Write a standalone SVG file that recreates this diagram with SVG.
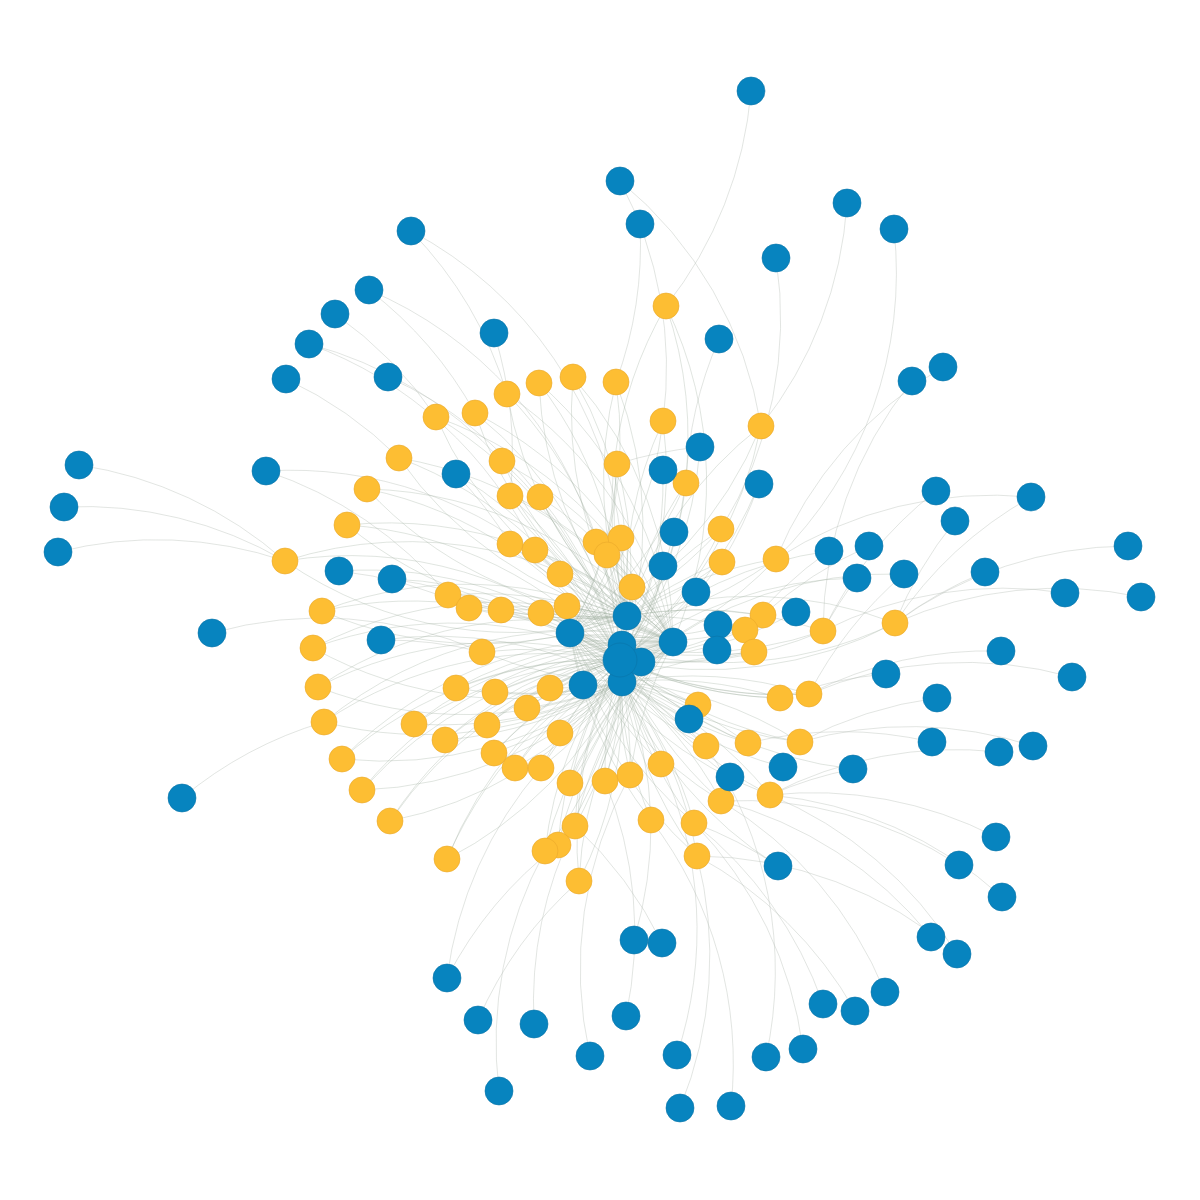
<svg xmlns="http://www.w3.org/2000/svg" width="1200" height="1200" viewBox="0 0 1200 1200">
<style>
.e path{fill:none;stroke:#9fae9f;stroke-width:0.6;stroke-opacity:0.55}
.p path{fill:none;stroke:#b9c0b9;stroke-width:0.6;stroke-opacity:0.7}
.b circle{fill:#0784bf;stroke:#0a74a8;stroke-width:0.6}
.y circle{fill:#fdbe33;stroke:#e9a72a;stroke-width:0.6}
</style>
<rect width="1200" height="1200" fill="#ffffff"/>
<g id="connectors">
<g class="p">
<path d="M751 91A400 400 0 0 1 666 306"/>
<path d="M620 181A400 400 0 0 1 663 421"/>
<path d="M640 224A400 400 0 0 1 616 382"/>
<path d="M847 203A400 400 0 0 1 761 426"/>
<path d="M894 229A400 400 0 0 1 776 559"/>
<path d="M776 258A400 400 0 0 1 721 529"/>
<path d="M411 231A400 400 0 0 1 507 394"/>
<path d="M369 290A400 400 0 0 1 475 413"/>
<path d="M335 314A400 400 0 0 1 436 417"/>
<path d="M309 344A400 400 0 0 1 502 461"/>
<path d="M286 379A400 400 0 0 1 399 458"/>
<path d="M388 377A400 400 0 0 1 540 497"/>
<path d="M494 333A400 400 0 0 1 510 496"/>
<path d="M719 339A400 400 0 0 0 686 483"/>
<path d="M912 381A400 400 0 0 0 823 631"/>
<path d="M943 367A400 400 0 0 0 776 559"/>
<path d="M700 447A400 400 0 0 0 617 464"/>
<path d="M759 484A400 400 0 0 1 722 562"/>
<path d="M456 474A400 400 0 0 1 510 544"/>
<path d="M266 471A400 400 0 0 1 448 595"/>
<path d="M79 465A400 400 0 0 1 285 561"/>
<path d="M64 507A400 400 0 0 1 285 561"/>
<path d="M58 552A400 400 0 0 1 285 561"/>
<path d="M936 491A400 400 0 0 0 823 631"/>
<path d="M1031 497A400 400 0 0 0 895 623"/>
<path d="M955 521A400 400 0 0 0 895 623"/>
<path d="M829 551A400 400 0 0 0 745 630"/>
<path d="M869 546A400 400 0 0 0 763 615"/>
<path d="M857 578A400 400 0 0 0 823 631"/>
<path d="M904 574A400 400 0 0 0 809 694"/>
<path d="M985 572A400 400 0 0 0 895 623"/>
<path d="M1128 546A400 400 0 0 0 895 623"/>
<path d="M1141 597A400 400 0 0 0 895 623"/>
<path d="M1065 593A400 400 0 0 0 823 631"/>
<path d="M339 571A400 400 0 0 1 469 608"/>
<path d="M392 579A400 400 0 0 1 501 610"/>
<path d="M212 633A400 400 0 0 1 482 652"/>
<path d="M381 640A400 400 0 0 1 482 652"/>
<path d="M1001 651A400 400 0 0 0 809 694"/>
<path d="M886 674A400 400 0 0 0 780 698"/>
<path d="M937 698A400 400 0 0 0 800 742"/>
<path d="M1072 677A400 400 0 0 0 809 694"/>
<path d="M932 742A400 400 0 0 0 748 743"/>
<path d="M999 752A400 400 0 0 0 770 795"/>
<path d="M1033 746A400 400 0 0 0 800 742"/>
<path d="M853 769A400 400 0 0 0 770 795"/>
<path d="M182 798A400 400 0 0 1 324 722"/>
<path d="M996 837A400 400 0 0 0 770 795"/>
<path d="M959 865A400 400 0 0 0 721 801"/>
<path d="M778 866A400 400 0 0 0 694 823"/>
<path d="M1002 897A400 400 0 0 0 770 795"/>
<path d="M931 937A400 400 0 0 0 721 801"/>
<path d="M957 954A400 400 0 0 0 697 856"/>
<path d="M634 940A400 400 0 0 0 651 820"/>
<path d="M662 943A400 400 0 0 0 575 826"/>
<path d="M447 978A400 400 0 0 1 558 845"/>
<path d="M885 992A400 400 0 0 0 721 801"/>
<path d="M823 1004A400 400 0 0 0 694 823"/>
<path d="M855 1011A400 400 0 0 0 697 856"/>
<path d="M478 1020A400 400 0 0 1 579 881"/>
<path d="M534 1024A400 400 0 0 1 575 826"/>
<path d="M626 1016A400 400 0 0 0 605 781"/>
<path d="M590 1056A400 400 0 0 1 630 775"/>
<path d="M677 1055A400 400 0 0 0 661 764"/>
<path d="M766 1057A400 400 0 0 0 706 746"/>
<path d="M803 1049A400 400 0 0 0 694 823"/>
<path d="M499 1091A400 400 0 0 1 545 851"/>
<path d="M680 1108A400 400 0 0 0 697 856"/>
<path d="M731 1106A400 400 0 0 0 651 820"/>
<path d="M620 181A400 400 0 0 1 761 426"/>
<path d="M411 231A400 400 0 0 1 621 538"/>
<path d="M369 290A400 400 0 0 1 596 542"/>
<path d="M309 344A400 400 0 0 1 535 550"/>
<path d="M266 471A400 400 0 0 1 560 574"/>
<path d="M1031 497A400 400 0 0 0 776 559"/>
<path d="M957 954A400 400 0 0 0 770 795"/>
<path d="M447 978A400 400 0 0 1 541 768"/>
</g>
<g class="e">
<path d="M666 306A400 400 0 0 1 620 660"/><path d="M666 306A400 400 0 0 0 627 616"/><path d="M666 306A400 400 0 0 1 673 642"/>
<path d="M573 377A400 400 0 0 1 620 660"/><path d="M573 377A400 400 0 0 0 627 616"/><path d="M573 377A400 400 0 0 1 673 642"/>
<path d="M539 383A400 400 0 0 1 620 660"/><path d="M539 383A400 400 0 0 0 627 616"/><path d="M539 383A400 400 0 0 1 673 642"/>
<path d="M507 394A400 400 0 0 1 620 660"/><path d="M507 394A400 400 0 0 0 627 616"/><path d="M507 394A400 400 0 0 1 673 642"/>
<path d="M616 382A400 400 0 0 1 620 660"/><path d="M616 382A400 400 0 0 0 627 616"/><path d="M616 382A400 400 0 0 1 570 633"/>
<path d="M475 413A400 400 0 0 1 620 660"/><path d="M475 413A400 400 0 0 0 627 616"/><path d="M475 413A400 400 0 0 1 673 642"/>
<path d="M436 417A400 400 0 0 1 620 660"/><path d="M436 417A400 400 0 0 0 627 616"/><path d="M436 417A400 400 0 0 1 673 642"/>
<path d="M663 421A400 400 0 0 1 620 660"/><path d="M663 421A400 400 0 0 0 627 616"/><path d="M663 421A400 400 0 0 1 570 633"/>
<path d="M761 426A400 400 0 0 1 620 660"/><path d="M761 426A400 400 0 0 0 627 616"/><path d="M761 426A400 400 0 0 1 570 633"/>
<path d="M399 458A400 400 0 0 1 620 660"/><path d="M399 458A400 400 0 0 0 627 616"/><path d="M399 458A400 400 0 0 1 673 642"/>
<path d="M502 461A400 400 0 0 1 620 660"/><path d="M502 461A400 400 0 0 0 627 616"/><path d="M502 461A400 400 0 0 1 673 642"/>
<path d="M617 464A400 400 0 0 1 620 660"/><path d="M617 464A400 400 0 0 0 627 616"/><path d="M617 464A400 400 0 0 1 570 633"/>
<path d="M686 483A400 400 0 0 1 620 660"/><path d="M686 483A400 400 0 0 0 627 616"/><path d="M686 483A400 400 0 0 1 570 633"/>
<path d="M367 489A400 400 0 0 1 620 660"/><path d="M367 489A400 400 0 0 0 627 616"/><path d="M367 489A400 400 0 0 1 673 642"/>
<path d="M510 496A400 400 0 0 1 620 660"/><path d="M510 496A400 400 0 0 0 627 616"/><path d="M510 496A400 400 0 0 1 673 642"/>
<path d="M540 497A400 400 0 0 1 620 660"/><path d="M540 497A400 400 0 0 0 627 616"/><path d="M540 497A400 400 0 0 1 673 642"/>
<path d="M347 525A400 400 0 0 1 620 660"/><path d="M347 525A400 400 0 0 0 627 616"/><path d="M347 525A400 400 0 0 1 673 642"/>
<path d="M721 529A400 400 0 0 1 620 660"/><path d="M721 529A400 400 0 0 0 627 616"/><path d="M721 529A400 400 0 0 1 570 633"/>
<path d="M510 544A400 400 0 0 1 620 660"/><path d="M510 544A400 400 0 0 0 627 616"/><path d="M510 544A400 400 0 0 1 673 642"/>
<path d="M535 550A400 400 0 0 1 620 660"/><path d="M535 550A400 400 0 0 0 627 616"/><path d="M535 550A400 400 0 0 1 673 642"/>
<path d="M596 542A400 400 0 0 1 620 660"/><path d="M596 542A400 400 0 0 0 627 616"/><path d="M596 542A400 400 0 0 1 673 642"/>
<path d="M621 538A400 400 0 0 1 620 660"/><path d="M621 538A400 400 0 0 0 627 616"/><path d="M621 538A400 400 0 0 1 570 633"/>
<path d="M607 555A400 400 0 0 1 620 660"/><path d="M607 555A400 400 0 0 0 627 616"/><path d="M607 555A400 400 0 0 1 673 642"/>
<path d="M285 561A400 400 0 0 1 620 660"/><path d="M285 561A400 400 0 0 0 627 616"/><path d="M285 561A400 400 0 0 1 673 642"/>
<path d="M722 562A400 400 0 0 1 620 660"/><path d="M722 562A400 400 0 0 0 627 616"/><path d="M722 562A400 400 0 0 1 570 633"/>
<path d="M776 559A400 400 0 0 1 620 660"/><path d="M776 559A400 400 0 0 0 627 616"/><path d="M776 559A400 400 0 0 1 570 633"/>
<path d="M560 574A400 400 0 0 1 620 660"/><path d="M560 574A400 400 0 0 0 627 616"/><path d="M560 574A400 400 0 0 1 673 642"/>
<path d="M632 587A400 400 0 0 1 620 660"/><path d="M632 587A400 400 0 0 0 627 616"/><path d="M632 587A400 400 0 0 1 570 633"/>
<path d="M448 595A400 400 0 0 1 620 660"/><path d="M448 595A400 400 0 0 0 627 616"/><path d="M448 595A400 400 0 0 1 673 642"/>
<path d="M469 608A400 400 0 0 1 620 660"/><path d="M469 608A400 400 0 0 0 627 616"/><path d="M469 608A400 400 0 0 1 673 642"/>
<path d="M501 610A400 400 0 0 1 620 660"/><path d="M501 610A400 400 0 0 0 627 616"/><path d="M501 610A400 400 0 0 1 673 642"/>
<path d="M541 613A400 400 0 0 1 620 660"/><path d="M541 613A400 400 0 0 0 627 616"/><path d="M541 613A400 400 0 0 1 673 642"/>
<path d="M567 606A400 400 0 0 1 620 660"/><path d="M567 606A400 400 0 0 0 627 616"/><path d="M567 606A400 400 0 0 1 673 642"/>
<path d="M322 611A400 400 0 0 1 620 660"/><path d="M322 611A400 400 0 0 0 627 616"/><path d="M322 611A400 400 0 0 1 673 642"/>
<path d="M763 615A400 400 0 0 1 620 660"/><path d="M763 615A400 400 0 0 0 627 616"/><path d="M763 615A400 400 0 0 1 570 633"/>
<path d="M745 630A400 400 0 0 1 620 660"/><path d="M745 630A400 400 0 0 0 627 616"/><path d="M745 630A400 400 0 0 1 570 633"/>
<path d="M823 631A400 400 0 0 1 620 660"/><path d="M823 631A400 400 0 0 0 627 616"/><path d="M823 631A400 400 0 0 1 570 633"/>
<path d="M895 623A400 400 0 0 1 620 660"/><path d="M895 623A400 400 0 0 0 627 616"/><path d="M895 623A400 400 0 0 1 570 633"/>
<path d="M754 652A400 400 0 0 1 620 660"/><path d="M754 652A400 400 0 0 0 622 682"/><path d="M754 652A400 400 0 0 1 570 633"/>
<path d="M313 648A400 400 0 0 1 620 660"/><path d="M313 648A400 400 0 0 0 622 682"/><path d="M313 648A400 400 0 0 1 673 642"/>
<path d="M482 652A400 400 0 0 1 620 660"/><path d="M482 652A400 400 0 0 0 622 682"/><path d="M482 652A400 400 0 0 1 673 642"/>
<path d="M318 687A400 400 0 0 1 620 660"/><path d="M318 687A400 400 0 0 0 622 682"/><path d="M318 687A400 400 0 0 1 673 642"/>
<path d="M456 688A400 400 0 0 1 620 660"/><path d="M456 688A400 400 0 0 0 622 682"/><path d="M456 688A400 400 0 0 1 673 642"/>
<path d="M495 692A400 400 0 0 1 620 660"/><path d="M495 692A400 400 0 0 0 622 682"/><path d="M495 692A400 400 0 0 1 673 642"/>
<path d="M550 688A400 400 0 0 1 620 660"/><path d="M550 688A400 400 0 0 0 622 682"/><path d="M550 688A400 400 0 0 1 673 642"/>
<path d="M780 698A400 400 0 0 1 620 660"/><path d="M780 698A400 400 0 0 0 622 682"/><path d="M780 698A400 400 0 0 1 570 633"/>
<path d="M809 694A400 400 0 0 1 620 660"/><path d="M809 694A400 400 0 0 0 622 682"/><path d="M809 694A400 400 0 0 1 570 633"/>
<path d="M698 705A400 400 0 0 1 620 660"/><path d="M698 705A400 400 0 0 0 622 682"/><path d="M698 705A400 400 0 0 1 570 633"/>
<path d="M527 708A400 400 0 0 1 620 660"/><path d="M527 708A400 400 0 0 0 622 682"/><path d="M527 708A400 400 0 0 1 673 642"/>
<path d="M324 722A400 400 0 0 1 620 660"/><path d="M324 722A400 400 0 0 0 622 682"/><path d="M324 722A400 400 0 0 1 673 642"/>
<path d="M414 724A400 400 0 0 1 620 660"/><path d="M414 724A400 400 0 0 0 622 682"/><path d="M414 724A400 400 0 0 1 673 642"/>
<path d="M487 725A400 400 0 0 1 620 660"/><path d="M487 725A400 400 0 0 0 622 682"/><path d="M487 725A400 400 0 0 1 673 642"/>
<path d="M445 740A400 400 0 0 1 620 660"/><path d="M445 740A400 400 0 0 0 622 682"/><path d="M445 740A400 400 0 0 1 673 642"/>
<path d="M560 733A400 400 0 0 1 620 660"/><path d="M560 733A400 400 0 0 0 622 682"/><path d="M560 733A400 400 0 0 1 673 642"/>
<path d="M706 746A400 400 0 0 1 620 660"/><path d="M706 746A400 400 0 0 0 622 682"/><path d="M706 746A400 400 0 0 1 570 633"/>
<path d="M748 743A400 400 0 0 1 620 660"/><path d="M748 743A400 400 0 0 0 622 682"/><path d="M748 743A400 400 0 0 1 570 633"/>
<path d="M800 742A400 400 0 0 1 620 660"/><path d="M800 742A400 400 0 0 0 622 682"/><path d="M800 742A400 400 0 0 1 570 633"/>
<path d="M342 759A400 400 0 0 1 620 660"/><path d="M342 759A400 400 0 0 0 622 682"/><path d="M342 759A400 400 0 0 1 673 642"/>
<path d="M494 753A400 400 0 0 1 620 660"/><path d="M494 753A400 400 0 0 0 622 682"/><path d="M494 753A400 400 0 0 1 673 642"/>
<path d="M515 768A400 400 0 0 1 620 660"/><path d="M515 768A400 400 0 0 0 622 682"/><path d="M515 768A400 400 0 0 1 673 642"/>
<path d="M541 768A400 400 0 0 1 620 660"/><path d="M541 768A400 400 0 0 0 622 682"/><path d="M541 768A400 400 0 0 1 673 642"/>
<path d="M661 764A400 400 0 0 1 620 660"/><path d="M661 764A400 400 0 0 0 622 682"/><path d="M661 764A400 400 0 0 1 570 633"/>
<path d="M630 775A400 400 0 0 1 620 660"/><path d="M630 775A400 400 0 0 0 622 682"/><path d="M630 775A400 400 0 0 1 673 642"/>
<path d="M570 783A400 400 0 0 1 620 660"/><path d="M570 783A400 400 0 0 0 622 682"/><path d="M570 783A400 400 0 0 1 673 642"/>
<path d="M605 781A400 400 0 0 1 620 660"/><path d="M605 781A400 400 0 0 0 622 682"/><path d="M605 781A400 400 0 0 1 673 642"/>
<path d="M362 790A400 400 0 0 1 620 660"/><path d="M362 790A400 400 0 0 0 622 682"/><path d="M362 790A400 400 0 0 1 673 642"/>
<path d="M390 821A400 400 0 0 1 620 660"/><path d="M390 821A400 400 0 0 0 622 682"/><path d="M390 821A400 400 0 0 1 673 642"/>
<path d="M721 801A400 400 0 0 1 620 660"/><path d="M721 801A400 400 0 0 0 622 682"/><path d="M721 801A400 400 0 0 1 570 633"/>
<path d="M770 795A400 400 0 0 1 620 660"/><path d="M770 795A400 400 0 0 0 622 682"/><path d="M770 795A400 400 0 0 1 570 633"/>
<path d="M651 820A400 400 0 0 1 620 660"/><path d="M651 820A400 400 0 0 0 622 682"/><path d="M651 820A400 400 0 0 1 570 633"/>
<path d="M694 823A400 400 0 0 1 620 660"/><path d="M694 823A400 400 0 0 0 622 682"/><path d="M694 823A400 400 0 0 1 570 633"/>
<path d="M575 826A400 400 0 0 1 620 660"/><path d="M575 826A400 400 0 0 0 622 682"/><path d="M575 826A400 400 0 0 1 673 642"/>
<path d="M558 845A400 400 0 0 1 620 660"/><path d="M558 845A400 400 0 0 0 622 682"/><path d="M558 845A400 400 0 0 1 673 642"/>
<path d="M545 851A400 400 0 0 1 620 660"/><path d="M545 851A400 400 0 0 0 622 682"/><path d="M545 851A400 400 0 0 1 673 642"/>
<path d="M697 856A400 400 0 0 1 620 660"/><path d="M697 856A400 400 0 0 0 622 682"/><path d="M697 856A400 400 0 0 1 570 633"/>
<path d="M447 859A400 400 0 0 1 620 660"/><path d="M447 859A400 400 0 0 0 622 682"/><path d="M447 859A400 400 0 0 1 673 642"/>
<path d="M579 881A400 400 0 0 1 620 660"/><path d="M579 881A400 400 0 0 0 622 682"/><path d="M579 881A400 400 0 0 1 673 642"/>
<path d="M700 447A400 400 0 0 1 620 660"/><path d="M663 470A400 400 0 0 1 620 660"/><path d="M674 532A400 400 0 0 1 620 660"/>
<path d="M663 566A400 400 0 0 1 622 682"/><path d="M796 612A400 400 0 0 1 620 660"/><path d="M730 777A400 400 0 0 1 620 660"/>
<path d="M783 767A400 400 0 0 1 622 682"/><path d="M689 719A400 400 0 0 1 570 633"/><path d="M456 474A400 400 0 0 1 620 660"/>
<path d="M759 484A400 400 0 0 1 620 660"/><path d="M853 769A400 400 0 0 1 620 660"/><path d="M778 866A400 400 0 0 1 622 682"/>
<path d="M392 579A400 400 0 0 1 620 660"/><path d="M381 640A400 400 0 0 1 622 682"/><path d="M339 571A400 400 0 0 1 620 660"/>
<path d="M857 578A400 400 0 0 0 620 660"/><path d="M829 551A400 400 0 0 0 622 645"/><path d="M904 574A400 400 0 0 0 641 662"/>
</g>
</g>
<g id="nodes">
<g class="y">
<g id="y1"><circle cx="666" cy="306" r="13"/></g>
<g id="y2"><circle cx="573" cy="377" r="13"/></g>
<g id="y3"><circle cx="539" cy="383" r="13"/></g>
<g id="y4"><circle cx="507" cy="394" r="13"/></g>
<g id="y5"><circle cx="616" cy="382" r="13"/></g>
<g id="y6"><circle cx="475" cy="413" r="13"/></g>
<g id="y7"><circle cx="436" cy="417" r="13"/></g>
<g id="y8"><circle cx="663" cy="421" r="13"/></g>
<g id="y9"><circle cx="761" cy="426" r="13"/></g>
<g id="y10"><circle cx="399" cy="458" r="13"/></g>
<g id="y11"><circle cx="502" cy="461" r="13"/></g>
<g id="y12"><circle cx="617" cy="464" r="13"/></g>
<g id="y13"><circle cx="686" cy="483" r="13"/></g>
<g id="y14"><circle cx="367" cy="489" r="13"/></g>
<g id="y15"><circle cx="510" cy="496" r="13"/></g>
<g id="y16"><circle cx="540" cy="497" r="13"/></g>
<g id="y17"><circle cx="347" cy="525" r="13"/></g>
<g id="y18"><circle cx="721" cy="529" r="13"/></g>
<g id="y19"><circle cx="510" cy="544" r="13"/></g>
<g id="y20"><circle cx="535" cy="550" r="13"/></g>
<g id="y21"><circle cx="596" cy="542" r="13"/></g>
<g id="y22"><circle cx="621" cy="538" r="13"/></g>
<g id="y23"><circle cx="607" cy="555" r="13"/></g>
<g id="y24"><circle cx="285" cy="561" r="13"/></g>
<g id="y25"><circle cx="722" cy="562" r="13"/></g>
<g id="y26"><circle cx="776" cy="559" r="13"/></g>
<g id="y27"><circle cx="560" cy="574" r="13"/></g>
<g id="y28"><circle cx="632" cy="587" r="13"/></g>
<g id="y29"><circle cx="448" cy="595" r="13"/></g>
<g id="y30"><circle cx="469" cy="608" r="13"/></g>
<g id="y31"><circle cx="501" cy="610" r="13"/></g>
<g id="y32"><circle cx="541" cy="613" r="13"/></g>
<g id="y33"><circle cx="567" cy="606" r="13"/></g>
<g id="y34"><circle cx="322" cy="611" r="13"/></g>
<g id="y35"><circle cx="763" cy="615" r="13"/></g>
<g id="y36"><circle cx="745" cy="630" r="13"/></g>
<g id="y37"><circle cx="823" cy="631" r="13"/></g>
<g id="y38"><circle cx="895" cy="623" r="13"/></g>
<g id="y39"><circle cx="754" cy="652" r="13"/></g>
<g id="y40"><circle cx="313" cy="648" r="13"/></g>
<g id="y41"><circle cx="482" cy="652" r="13"/></g>
<g id="y42"><circle cx="318" cy="687" r="13"/></g>
<g id="y43"><circle cx="456" cy="688" r="13"/></g>
<g id="y44"><circle cx="495" cy="692" r="13"/></g>
<g id="y45"><circle cx="550" cy="688" r="13"/></g>
<g id="y46"><circle cx="780" cy="698" r="13"/></g>
<g id="y47"><circle cx="809" cy="694" r="13"/></g>
<g id="y48"><circle cx="698" cy="705" r="13"/></g>
<g id="y49"><circle cx="527" cy="708" r="13"/></g>
<g id="y50"><circle cx="324" cy="722" r="13"/></g>
<g id="y51"><circle cx="414" cy="724" r="13"/></g>
<g id="y52"><circle cx="487" cy="725" r="13"/></g>
<g id="y53"><circle cx="445" cy="740" r="13"/></g>
<g id="y54"><circle cx="560" cy="733" r="13"/></g>
<g id="y55"><circle cx="706" cy="746" r="13"/></g>
<g id="y56"><circle cx="748" cy="743" r="13"/></g>
<g id="y57"><circle cx="800" cy="742" r="13"/></g>
<g id="y58"><circle cx="342" cy="759" r="13"/></g>
<g id="y59"><circle cx="494" cy="753" r="13"/></g>
<g id="y60"><circle cx="515" cy="768" r="13"/></g>
<g id="y61"><circle cx="541" cy="768" r="13"/></g>
<g id="y62"><circle cx="661" cy="764" r="13"/></g>
<g id="y63"><circle cx="630" cy="775" r="13"/></g>
<g id="y64"><circle cx="570" cy="783" r="13"/></g>
<g id="y65"><circle cx="605" cy="781" r="13"/></g>
<g id="y66"><circle cx="362" cy="790" r="13"/></g>
<g id="y67"><circle cx="390" cy="821" r="13"/></g>
<g id="y68"><circle cx="721" cy="801" r="13"/></g>
<g id="y69"><circle cx="770" cy="795" r="13"/></g>
<g id="y70"><circle cx="651" cy="820" r="13"/></g>
<g id="y71"><circle cx="694" cy="823" r="13"/></g>
<g id="y72"><circle cx="575" cy="826" r="13"/></g>
<g id="y73"><circle cx="558" cy="845" r="13"/></g>
<g id="y74"><circle cx="545" cy="851" r="13"/></g>
<g id="y75"><circle cx="697" cy="856" r="13"/></g>
<g id="y76"><circle cx="447" cy="859" r="13"/></g>
<g id="y77"><circle cx="579" cy="881" r="13"/></g>
</g>
<g class="b">
<g id="b1"><circle cx="751" cy="91" r="14"/></g>
<g id="b2"><circle cx="620" cy="181" r="14"/></g>
<g id="b3"><circle cx="640" cy="224" r="14"/></g>
<g id="b4"><circle cx="847" cy="203" r="14"/></g>
<g id="b5"><circle cx="894" cy="229" r="14"/></g>
<g id="b6"><circle cx="776" cy="258" r="14"/></g>
<g id="b7"><circle cx="411" cy="231" r="14"/></g>
<g id="b8"><circle cx="369" cy="290" r="14"/></g>
<g id="b9"><circle cx="335" cy="314" r="14"/></g>
<g id="b10"><circle cx="309" cy="344" r="14"/></g>
<g id="b11"><circle cx="286" cy="379" r="14"/></g>
<g id="b12"><circle cx="388" cy="377" r="14"/></g>
<g id="b13"><circle cx="494" cy="333" r="14"/></g>
<g id="b14"><circle cx="719" cy="339" r="14"/></g>
<g id="b15"><circle cx="912" cy="381" r="14"/></g>
<g id="b16"><circle cx="943" cy="367" r="14"/></g>
<g id="b17"><circle cx="700" cy="447" r="14"/></g>
<g id="b18"><circle cx="663" cy="470" r="14"/></g>
<g id="b19"><circle cx="759" cy="484" r="14"/></g>
<g id="b20"><circle cx="456" cy="474" r="14"/></g>
<g id="b21"><circle cx="266" cy="471" r="14"/></g>
<g id="b22"><circle cx="79" cy="465" r="14"/></g>
<g id="b23"><circle cx="64" cy="507" r="14"/></g>
<g id="b24"><circle cx="58" cy="552" r="14"/></g>
<g id="b25"><circle cx="936" cy="491" r="14"/></g>
<g id="b26"><circle cx="1031" cy="497" r="14"/></g>
<g id="b27"><circle cx="955" cy="521" r="14"/></g>
<g id="b28"><circle cx="674" cy="532" r="14"/></g>
<g id="b29"><circle cx="829" cy="551" r="14"/></g>
<g id="b30"><circle cx="869" cy="546" r="14"/></g>
<g id="b31"><circle cx="857" cy="578" r="14"/></g>
<g id="b32"><circle cx="904" cy="574" r="14"/></g>
<g id="b33"><circle cx="985" cy="572" r="14"/></g>
<g id="b34"><circle cx="1128" cy="546" r="14"/></g>
<g id="b35"><circle cx="1141" cy="597" r="14"/></g>
<g id="b36"><circle cx="663" cy="566" r="14"/></g>
<g id="b37"><circle cx="696" cy="592" r="14"/></g>
<g id="b38"><circle cx="627" cy="616" r="14"/></g>
<g id="b39"><circle cx="796" cy="612" r="14"/></g>
<g id="b40"><circle cx="339" cy="571" r="14"/></g>
<g id="b41"><circle cx="392" cy="579" r="14"/></g>
<g id="b42"><circle cx="1065" cy="593" r="14"/></g>
<g id="b43"><circle cx="212" cy="633" r="14"/></g>
<g id="b44"><circle cx="381" cy="640" r="14"/></g>
<g id="b45"><circle cx="570" cy="633" r="14"/></g>
<g id="b46"><circle cx="673" cy="642" r="14"/></g>
<g id="b47"><circle cx="718" cy="625" r="14"/></g>
<g id="b48"><circle cx="717" cy="650" r="14"/></g>
<g id="b49"><circle cx="1001" cy="651" r="14"/></g>
<g id="b50"><circle cx="886" cy="674" r="14"/></g>
<g id="b51"><circle cx="937" cy="698" r="14"/></g>
<g id="b52"><circle cx="1072" cy="677" r="14"/></g>
<g id="b53"><circle cx="583" cy="685" r="14"/></g>
<g id="b54"><circle cx="689" cy="719" r="14"/></g>
<g id="b55"><circle cx="932" cy="742" r="14"/></g>
<g id="b56"><circle cx="999" cy="752" r="14"/></g>
<g id="b57"><circle cx="1033" cy="746" r="14"/></g>
<g id="b58"><circle cx="853" cy="769" r="14"/></g>
<g id="b59"><circle cx="783" cy="767" r="14"/></g>
<g id="b60"><circle cx="730" cy="777" r="14"/></g>
<g id="b61"><circle cx="182" cy="798" r="14"/></g>
<g id="b62"><circle cx="996" cy="837" r="14"/></g>
<g id="b63"><circle cx="959" cy="865" r="14"/></g>
<g id="b64"><circle cx="778" cy="866" r="14"/></g>
<g id="b65"><circle cx="1002" cy="897" r="14"/></g>
<g id="b66"><circle cx="931" cy="937" r="14"/></g>
<g id="b67"><circle cx="957" cy="954" r="14"/></g>
<g id="b68"><circle cx="634" cy="940" r="14"/></g>
<g id="b69"><circle cx="662" cy="943" r="14"/></g>
<g id="b70"><circle cx="447" cy="978" r="14"/></g>
<g id="b71"><circle cx="885" cy="992" r="14"/></g>
<g id="b72"><circle cx="823" cy="1004" r="14"/></g>
<g id="b73"><circle cx="855" cy="1011" r="14"/></g>
<g id="b74"><circle cx="478" cy="1020" r="14"/></g>
<g id="b75"><circle cx="534" cy="1024" r="14"/></g>
<g id="b76"><circle cx="626" cy="1016" r="14"/></g>
<g id="b77"><circle cx="590" cy="1056" r="14"/></g>
<g id="b78"><circle cx="677" cy="1055" r="14"/></g>
<g id="b79"><circle cx="766" cy="1057" r="14"/></g>
<g id="b80"><circle cx="803" cy="1049" r="14"/></g>
<g id="b81"><circle cx="499" cy="1091" r="14"/></g>
<g id="b82"><circle cx="680" cy="1108" r="14"/></g>
<g id="b83"><circle cx="731" cy="1106" r="14"/></g>
<g id="b84"><circle cx="622" cy="645" r="14"/></g>
<g id="b85"><circle cx="622" cy="682" r="14"/></g>
<g id="b86"><circle cx="641" cy="662" r="14"/></g>
<g id="b87"><circle cx="620" cy="660" r="17"/></g>
</g>
</g>
</svg>
